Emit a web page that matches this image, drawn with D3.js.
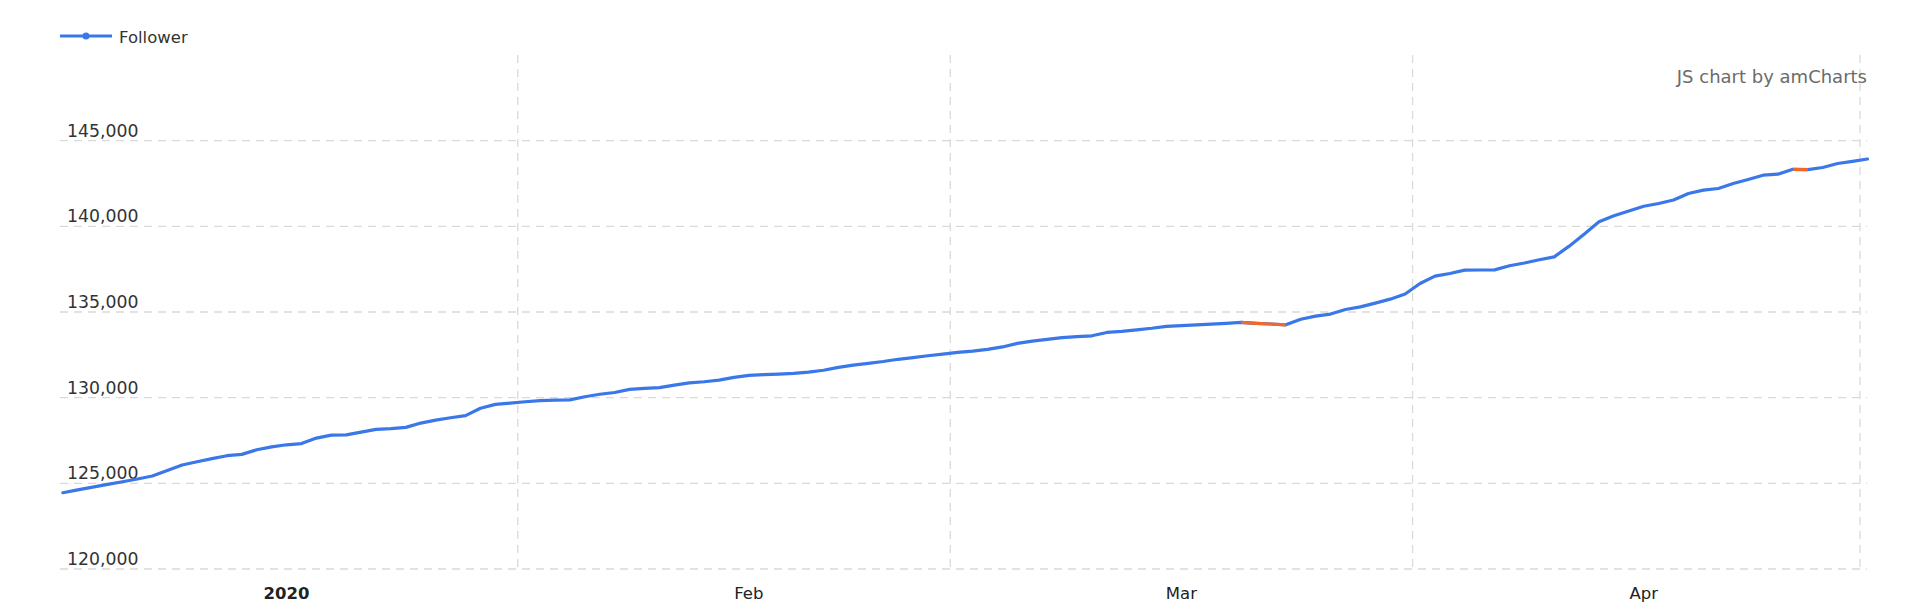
<!DOCTYPE html>
<html>
<head>
<meta charset="utf-8">
<script src="https://cdn.jsdelivr.net/npm/d3@7/dist/d3.min.js"></script>
<style>
  html, body { margin: 0; padding: 0; background: #fff; }
  svg { display: block; font-family: "DejaVu Sans", Verdana, sans-serif; }
</style>
</head>
<body>
<svg id="chart" width="1920" height="615"></svg>
<script>
// ---- data ----
const seriesName = "Follower";
const startDate = "2020-01-01";
const endDate = "2020-05-01";
const followers = [
  124453, 124615, 124780, 124940, 125095, 125251, 125426, 125750, 126067, 126262,
  126440, 126612, 126690, 126960, 127130, 127250, 127320, 127640, 127817, 127830,
  127990, 128150, 128190, 128265, 128518, 128690, 128830, 128950, 129380, 129607,
  129680, 129760, 129830, 129859, 129870, 130054, 130200, 130300, 130482, 130540,
  130590, 130730, 130860, 130930, 131020, 131183, 131300, 131340, 131377, 131420,
  131490, 131600, 131770, 131900, 132000, 132110, 132240, 132340, 132446, 132540,
  132640, 132720, 132820, 132960, 133170, 133300, 133400, 133500, 133560, 133612,
  133806, 133870, 133960, 134050, 134160, 134200, 134250, 134290, 134340, 134390,
  134340, 134300, 134253, 134580, 134760, 134880, 135148, 135300, 135520, 135750,
  136050, 136666, 137093, 137250, 137443, 137450, 137460, 137700, 137860, 138050,
  138220, 138844, 139544, 140264, 140614, 140900, 141170, 141333, 141540, 141917,
  142111, 142208, 142500, 142733, 142986, 143044, 143330, 143310, 143434, 143667,
  143794, 143930
];
const yTicks = [120000, 125000, 130000, 135000, 140000, 145000];
const yDomain = [120000, 150000];
const xGridDates = ["2020-02-01", "2020-03-01", "2020-04-01", "2020-05-01"];
const xLabelDates = ["2020-01-16T12:00Z", "2020-02-16T12:00Z", "2020-03-16T12:00Z", "2020-04-16T12:00Z"];
const xLabels = ["2020", "Feb", "Mar", "Apr"];
const watermark = "JS chart by amCharts";

// ---- layout ----
const plot = { left: 60, right: 1867, top: 55, bottom: 569 };
const blue = "#3a77e8";
const orange = "#f0692a";
const gridColor = "#d9d9d9";

const dates = followers.map((_, i) => d3.utcHour.offset(d3.utcDay.offset(new Date(startDate + "T00:00Z"), i), 12));
const data = dates.map((d, i) => ({ date: d, value: followers[i] }));

const x = d3.scaleUtc()
  .domain([new Date(startDate + "T00:00Z"), new Date(endDate + "T00:00Z")])
  .range([55.4, 1860]);
const y = d3.scaleLinear().domain(yDomain).range([plot.bottom, plot.top]);

const svg = d3.select("#chart");

// horizontal grid
svg.append("g").selectAll("line").data(yTicks).join("line")
  .attr("x1", plot.left).attr("x2", plot.right)
  .attr("y1", d => y(d)).attr("y2", d => y(d))
  .attr("stroke", gridColor).attr("stroke-width", 1.3)
  .attr("stroke-dasharray", "8,6");

// vertical grid
svg.append("g").selectAll("line").data(xGridDates.map(s => new Date(s + "T00:00Z"))).join("line")
  .attr("x1", d => x(d)).attr("x2", d => x(d))
  .attr("y1", plot.top).attr("y2", plot.bottom)
  .attr("stroke", gridColor).attr("stroke-width", 1.3)
  .attr("stroke-dasharray", "8,6");

// y labels (inside, above grid lines)
const fmt = d3.format(",");
svg.append("g").selectAll("text").data(yTicks).join("text")
  .attr("x", 67).attr("y", d => y(d) - 4)
  .attr("font-size", 17.3).attr("fill", "#333")
  .text(d => fmt(d));

// x labels
svg.append("g").selectAll("text").data(xLabelDates).join("text")
  .attr("x", d => x(new Date(d))).attr("y", 599)
  .attr("text-anchor", "middle")
  .attr("font-size", 16.5).attr("fill", "#222")
  .attr("font-weight", (d, i) => i === 0 ? "bold" : "normal")
  .text((d, i) => xLabels[i]);

// line
const line = d3.line().x(d => x(d.date)).y(d => y(d.value));
svg.append("path").datum(data)
  .attr("fill", "none").attr("stroke", blue).attr("stroke-width", 3.2)
  .attr("stroke-linejoin", "round").attr("stroke-linecap", "round")
  .attr("d", line);

// decreasing runs in orange
const runs = [];
let cur = null;
for (let i = 1; i < data.length; i++) {
  if (data[i].value < data[i - 1].value) {
    if (!cur) { cur = [data[i - 1]]; runs.push(cur); }
    cur.push(data[i]);
  } else cur = null;
}
svg.append("g").selectAll("path").data(runs).join("path")
  .attr("fill", "none").attr("stroke", orange).attr("stroke-width", 3.2)
  .attr("stroke-linejoin", "round")
  .attr("d", line);

// legend
const lg = svg.append("g");
lg.append("line").attr("x1", 60).attr("x2", 112).attr("y1", 36).attr("y2", 36)
  .attr("stroke", blue).attr("stroke-width", 3);
lg.append("circle").attr("cx", 86).attr("cy", 36).attr("r", 3.5).attr("fill", blue);
lg.append("text").attr("x", 119).attr("y", 42.5)
  .attr("font-size", 16.5).attr("fill", "#333").text(seriesName);

// watermark
svg.append("text").attr("x", 1867).attr("y", 83)
  .attr("text-anchor", "end").attr("font-size", 18).attr("fill", "#6b6b6b")
  .text(watermark);
</script>
</body>
</html>
